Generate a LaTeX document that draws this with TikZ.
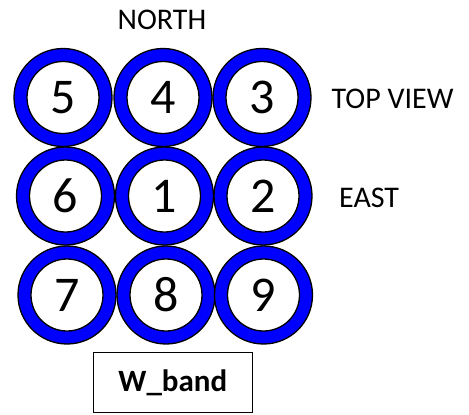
\documentclass[tikz,border=0pt]{standalone}
\usepackage{fontspec}
\setmainfont{Carlito}
\begin{document}
\begin{tikzpicture}[x=1pt, y=-1pt]
			\tikzset{
				ring/.style={circle, draw=black, line width=1.3pt, fill=blue, minimum size=98pt, inner sep=0pt},
				hole/.style={circle, draw=black, line width=1.3pt, fill=white, minimum size=72pt, inner sep=0pt, font=\fontsize{50}{50}\selectfont},
				lbl/.style={font=\fontsize{30}{30}\selectfont, inner sep=0pt}
			}
			\useasboundingbox (0,0) rectangle (469,415);

			% Кольца 3x3
			\foreach \x/\y/\n in {63/97.5/5, 163/97.5/4, 262/97.5/3,
				65.5/196/6, 164.5/196/1, 263/196/2,
				67/295/7, 166/295/8, 263.5/295/9} {
				\node[ring] (r\n) at (\x,\y) {};
				\node[hole] (h\n) at (r\n) {\n};
			}

			% Подписи
			\node[lbl] (north) at (162,20) {NORTH};
			\node[lbl, anchor=west] (top) at (331.5,99) {TOP VIEW};
			\node[lbl, anchor=west] (east) at (339,198) {EAST};

			% Рамка
			\node[draw=black, line width=0.8pt, minimum width=159pt, minimum height=59.5pt,
				font=\fontsize{31}{31}\selectfont\bfseries] (band) at (172.8,382.5) {W\_band\hspace{7pt}};
		\end{tikzpicture}
\end{document}
